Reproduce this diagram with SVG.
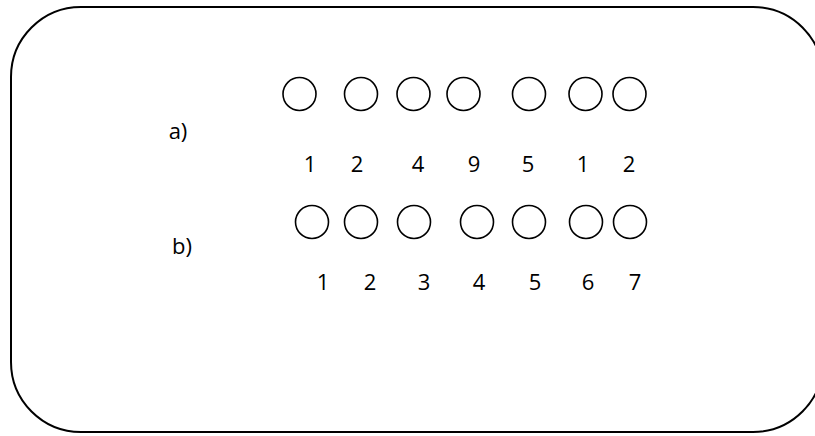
<svg xmlns="http://www.w3.org/2000/svg" width="815" height="436" viewBox="0 0 815 436">
<style>
.c{fill:none;stroke:#000;stroke-width:1.6}
.t{font-family:"Open Sans","Liberation Sans",sans-serif;font-size:22px;fill:#000;text-anchor:middle}
</style>
<rect x="0" y="0" width="815" height="436" fill="#fff"/>
<g id="frame"><rect x="11" y="7" width="812" height="425" rx="70" ry="70" fill="none" stroke="#000" stroke-width="2"/></g>
<g id="label-a"><text class="t" x="178" y="139">a)</text></g>
<g id="label-b"><text class="t" x="182" y="254">b)</text></g>
<g id="row-a">
<circle class="c" cx="299.5" cy="94" r="16.5"/>
<circle class="c" cx="361" cy="94" r="16.5"/>
<circle class="c" cx="413.5" cy="94" r="16.5"/>
<circle class="c" cx="463.5" cy="94" r="16.5"/>
<circle class="c" cx="529" cy="94" r="16.5"/>
<circle class="c" cx="585.5" cy="94" r="16.5"/>
<circle class="c" cx="629.5" cy="94" r="16.5"/>
</g>
<g id="row-a-numbers">
<text class="t" x="310" y="172">1</text>
<text class="t" x="357" y="172">2</text>
<text class="t" x="418" y="172">4</text>
<text class="t" x="474" y="172">9</text>
<text class="t" x="528" y="172">5</text>
<text class="t" x="583" y="172">1</text>
<text class="t" x="629" y="172">2</text>
</g>
<g id="row-b">
<circle class="c" cx="312" cy="222" r="16.5"/>
<circle class="c" cx="361" cy="222" r="16.5"/>
<circle class="c" cx="414" cy="222" r="16.5"/>
<circle class="c" cx="477" cy="222" r="16.5"/>
<circle class="c" cx="529" cy="222" r="16.5"/>
<circle class="c" cx="586" cy="222" r="16.5"/>
<circle class="c" cx="630" cy="222" r="16.5"/>
</g>
<g id="row-b-numbers">
<text class="t" x="323" y="290">1</text>
<text class="t" x="370" y="290">2</text>
<text class="t" x="424" y="290">3</text>
<text class="t" x="479" y="290">4</text>
<text class="t" x="535" y="290">5</text>
<text class="t" x="588" y="290">6</text>
<text class="t" x="635" y="290">7</text>
</g>
</svg>
